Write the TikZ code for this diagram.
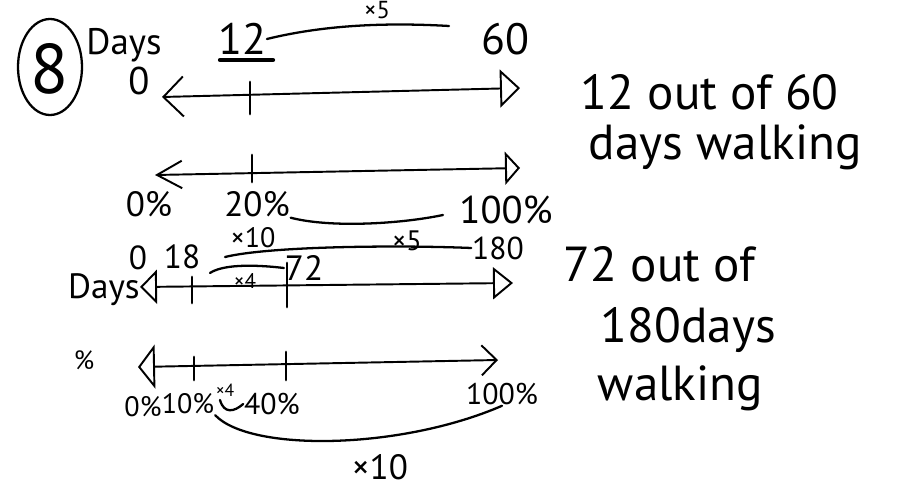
\documentclass[tikz,border=0pt]{standalone}
\usepackage{fontspec}
\setmainfont{PT Sans}
\usetikzlibrary{arrows.meta, positioning, calc}

\begin{document}
\begin{tikzpicture}[x=0.02cm, y=-0.02cm, line width=1.1pt, line cap=round,
    hand/.style={inner sep=0pt, font=\fontsize{#1}{#1}\selectfont},
    hand/.default=20,
    tickmark/.style={line width=1.6pt},
    arc/.style={line width=1.3pt}]
  \useasboundingbox (0,0) rectangle (899,496);

  % problem number and first pair of lines
  \node[hand=40] (num) at (50,69) {8};
  \draw[line width=1.3pt] (50,67) ellipse [x radius=32, y radius=48];
  \node[hand=21] (days1) at (124,45) {Days};
  \node[hand=22] (zero1) at (139,81) {0};
  \node[hand=25] (twelve) at (242,39) {12};
  \node[hand=25] (sixty) at (505,39) {60};
  \node[hand=14] (times5a) at (377,10) {×5};
  \draw[line width=2.4pt] (220,60) -- (273,60);
  \coordinate (a0) at (162,97);
  \coordinate (a60) at (520,88);
  \coordinate (arcend1) at (449,26);
  \draw[{Straight Barb[length=0.4cm, width=0.8cm]}-{Triangle[open, length=0.4cm, width=0.76cm]}]
    (a0) -- (a60);
  \draw[tickmark] (250,82) -- (250,114);
  \draw[arc] (twelve.east) .. controls (320,26) and (380,22) .. (arcend1);

  \coordinate (b0) at (155,175);
  \coordinate (b100) at (520,168);
  \draw[{Straight Barb[length=0.5cm, width=0.55cm]}-{Triangle[open, length=0.3cm, width=0.66cm]}]
    (b0) -- (b100);
  \draw[tickmark] (252,155) -- (252,182);
  \node[hand=20] (pct0a) at (149,204) {0\%};
  \node[hand=20] (pct20) at (257,204) {20\%};
  \node[hand=22] (pct100a) at (506,210) {100\%};
  \coordinate (arcend2) at (443,215);
  \draw[arc] (pct20.south east) .. controls (330,228) and (400,224) .. (arcend2);

  % second pair of lines
  \node[hand=19] (zero2) at (138,258) {0};
  \node[hand=19] (eighteen) at (182,257) {18};
  \node[hand=16] (times10a) at (253,238) {×10};
  \node[hand=16] (times5b) at (407,241) {×5};
  \node[hand=18] (n180) at (498,248) {180};
  \node[hand=20] (n72) at (304,268) {72};
  \node[hand=12] (times4a) at (245,281) {×4};
  \node[hand=20] (days2) at (104,290) {Days};
  \coordinate (c0) at (140,287);
  \coordinate (c180) at (513,283);
  \coordinate (arcstart3) at (225,257);
  \coordinate (arcstart4) at (210,273);
  \draw[{Triangle[open, length=0.34cm, width=0.68cm]}-{Triangle[open, length=0.4cm, width=0.64cm]}]
    (c0) -- (c180);
  \draw[tickmark] (192,277) -- (192,303);
  \draw[tickmark] (287,263) -- (287,307);
  \draw[arc] (arcstart3) .. controls (270,246) and (400,245) .. (n180.west);
  \draw[arc] (arcstart4) .. controls (222,265) and (250,264) .. (n72.west);

  \node[hand=15] (pctsign) at (84,360) {\%};
  \coordinate (d0) at (138,367);
  \coordinate (d100) at (498,360);
  \draw[{Triangle[open, length=0.34cm, width=0.88cm]}-{Straight Barb[length=0.3cm, width=0.6cm]}]
    (d0) -- (d100);
  \draw[tickmark] (194,357) -- (194,380);
  \draw[tickmark] (286,352) -- (286,380);
  \node[hand=16] (pct0b) at (143,407) {0\%};
  \node[hand=16] (pct10) at (188,404) {10\%};
  \node[hand=10] (times4b) at (225,390) {×4};
  \node[hand=17] (pct40) at (272,404) {40\%};
  \node[hand=17] (pct100b) at (502,394) {100\%};
  \node[hand=20] (times10b) at (380,467) {×10};
  \draw[arc] (220,400) .. controls (224,414) and (234,412) .. (pct40.west);
  \draw[arc] (pct10.south east) .. controls (250,452) and (400,450) .. (pct100b.south);

  % statements on the right
  \node[hand=28, anchor=base west] (out1) at (580,110) {12 out of 60};
  \node[hand=28, anchor=base west] (walk1) at (588,160) {days walking};
  \node[hand=28, anchor=base west] (out2) at (563,282) {72 out of};
  \node[hand=28, anchor=base west] (days3) at (600,343) {180days};
  \node[hand=28, anchor=base west] (walk2) at (597,400) {walking};
\end{tikzpicture}
\end{document}
